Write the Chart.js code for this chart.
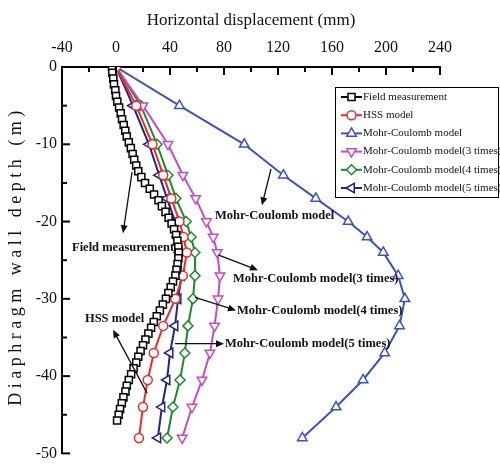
<!DOCTYPE html>
<html><head><meta charset="utf-8">
<script src="https://cdn.jsdelivr.net/npm/chart.js@4.4.1/dist/chart.umd.min.js"></script>
<style>html,body{margin:0;padding:0;background:#fff;}canvas{display:block;}</style>
</head><body>
<canvas id="c" width="500" height="468"></canvas>
<script>
// ---------- data ----------
const seriesNames = ["Field measurement","HSS model","Mohr-Coulomb model","Mohr-Coulomb model(3 times)","Mohr-Coulomb model(4 times)","Mohr-Coulomb model(5 times)"];
const fieldDepth = [0,-0.75,-1.5,-2.25,-3,-3.75,-4.5,-5.25,-6,-6.75,-7.5,-8.25,-9,-9.75,-10.5,-11.25,-12,-12.75,-13.5,-14.25,-15,-15.75,-16.5,-17.25,-18,-18.75,-19.5,-20.25,-21,-21.75,-22.5,-23.25,-24,-24.75,-25.5,-26.25,-27,-27.75,-28.5,-29.25,-30,-30.75,-31.5,-32.25,-33,-33.75,-34.5,-35.25,-36,-36.75,-37.5,-38.25,-39,-39.75,-40.5,-41.25,-42,-42.75,-43.5,-44.25,-45,-45.75];
const fieldDisp  = [-3,-2.7,-2,-1.5,-0.5,0,1,2.3,3.5,4.5,5.7,6.9,8,9.5,11,12.3,13.5,15,16.5,18.8,21.5,25,28.2,31.5,34,36.7,39,41.2,43,44.5,45.5,46.2,46.5,46.2,45.6,44.8,44,42.2,40.5,38.8,37,34.7,32.5,30.2,28,26,24,21.8,20,18.2,16.5,15,13,11.2,9.5,8,7,5.5,4.3,3,2,0.8];
const modelDepth = [0,-5,-10,-14,-17,-20,-22,-24,-27,-30,-33.5,-37,-40.5,-44,-48];
const hssDisp = [0,15,27,35,41,47,50,52.5,49.5,44,35,28,23.5,20,17];
const mcDisp  = [0,47,95,124,148,172,186,198,209,214,210,199,183,163,138];
const mc3Disp = [0,20,38.5,49.6,59,67,72,75,77,75.6,73,69.6,63.7,56.3,49];
const mc4Disp = [0,18.5,30.4,38.5,44.4,52,55.6,58.5,58.5,57,53.3,51,47.4,42.2,37.8];
const mc5Disp = [0,12.6,24.4,32,37.8,43.7,45.5,47,48.5,46,43.7,40,37.8,34,31];
const xTicks = [-40,0,40,80,120,160,200,240];
const yTicks = [0,-10,-20,-30,-40,-50];
const xTitle = "Horizontal displacement (mm)";
const yTitle = "Diaphragm wall depth (m)";

// annotation callouts (data units)
const notes = [
  {text:"Field measurement", tx:-32.6, ty:-23.4, from:[11.9,-13.6], to:[5.2,-21.5]},
  {text:"Mohr-Coulomb model", tx:73.3, ty:-19.3, from:[114.8,-13.2], to:[108.1,-17.9]},
  {text:"Mohr-Coulomb model(3 times)", tx:86.7, ty:-27.4, from:[75.6,-24.3], to:[105.2,-26.3]},
  {text:"Mohr-Coulomb model(4 times)", tx:89.6, ty:-31.5, from:[58.5,-29.8], to:[88.9,-31.5]},
  {text:"Mohr-Coulomb model(5 times)", tx:80.7, ty:-35.8, from:[43.7,-35.8], to:[80,-35.8]},
  {text:"HSS model", tx:-23, ty:-32.6, from:[23,-42.2], to:[-2.2,-34]}
];

const colors = ["#000000","#f0282a","#3c52c0","#c44cc4","#1e8a30","#1f2580"];
const styles = [
  {pointStyle:'rect', radius:5, rotation:0},
  {pointStyle:'circle', radius:4.5, rotation:0},
  {pointStyle:'triangle', radius:5.5, rotation:0},
  {pointStyle:'triangle', radius:5.5, rotation:180},
  {pointStyle:'rectRot', radius:5, rotation:0},
  {pointStyle:'triangle', radius:5.5, rotation:-90}
];
const xs = [fieldDisp,hssDisp,mcDisp,mc3Disp,mc4Disp,mc5Disp];
const ds = xs.map((arr,i)=>{
  const dep = i===0 ? fieldDepth : modelDepth;
  return {
    label: seriesNames[i],
    data: arr.map((v,j)=>({x:v,y:dep[j]})),
    showLine:true,
    borderColor: colors[i],
    backgroundColor:'#ffffff',
    pointBackgroundColor:'#ffffff',
    pointBorderColor: colors[i],
    pointBorderWidth:1.5,
    borderWidth: i===0?1.5:2,
    pointStyle: styles[i].pointStyle,
    pointRadius: styles[i].radius,
    pointRotation: styles[i].rotation,
    tension:0
  };
});

const serif = '"Liberation Serif","DejaVu Serif",serif';

function arrow(ctx,x1,y1,x2,y2){
  const a=Math.atan2(y2-y1,x2-x1), L=8, W=3.5;
  ctx.beginPath(); ctx.moveTo(x1,y1); ctx.lineTo(x2-Math.cos(a)*L*0.8,y2-Math.sin(a)*L*0.8); ctx.stroke();
  ctx.beginPath();
  ctx.moveTo(x2,y2);
  ctx.lineTo(x2-Math.cos(a)*L+Math.sin(a)*W, y2-Math.sin(a)*L-Math.cos(a)*W);
  ctx.lineTo(x2-Math.cos(a)*L-Math.sin(a)*W, y2-Math.sin(a)*L+Math.cos(a)*W);
  ctx.closePath(); ctx.fill();
}

const decor = {
  id:'decor',
  afterDraw(chart){
    const ctx=chart.ctx, sx=chart.scales.x, sy=chart.scales.y, ca=chart.chartArea;
    ctx.save();
    ctx.strokeStyle='#000'; ctx.lineWidth=2;
    // inward ticks
    for(let i=0;i<xTicks.length;i++){
      const p=sx.getPixelForValue(xTicks[i]);
      ctx.beginPath(); ctx.moveTo(p,ca.top); ctx.lineTo(p,ca.top+8); ctx.stroke();
      if(i<xTicks.length-1){
        const m=sx.getPixelForValue((xTicks[i]+xTicks[i+1])/2);
        ctx.beginPath(); ctx.moveTo(m,ca.top); ctx.lineTo(m,ca.top+5); ctx.stroke();
      }
    }
    for(let i=0;i<yTicks.length;i++){
      const p=sy.getPixelForValue(yTicks[i]);
      ctx.beginPath(); ctx.moveTo(ca.left,p); ctx.lineTo(ca.left+8,p); ctx.stroke();
      if(i<yTicks.length-1){
        const m=sy.getPixelForValue((yTicks[i]+yTicks[i+1])/2);
        ctx.beginPath(); ctx.moveTo(ca.left,m); ctx.lineTo(ca.left+5,m); ctx.stroke();
      }
    }
    // y title with letter spacing
    ctx.save();
    ctx.translate(16,256); ctx.rotate(-Math.PI/2);
    ctx.font='18px '+serif; ctx.fillStyle='#111';
    try{ctx.letterSpacing='4.5px';}catch(e){}
    ctx.textAlign='center'; ctx.textBaseline='middle';
    ctx.fillText(yTitle,0,0);
    ctx.restore();
    // callouts
    ctx.fillStyle='#111'; ctx.strokeStyle='#111'; ctx.lineWidth=1.3;
    ctx.font='bold 12.5px '+serif; ctx.textAlign='left'; ctx.textBaseline='middle';
    notes.forEach(n=>{
      ctx.fillText(n.text, sx.getPixelForValue(n.tx), sy.getPixelForValue(n.ty));
      arrow(ctx, sx.getPixelForValue(n.from[0]), sy.getPixelForValue(n.from[1]),
                 sx.getPixelForValue(n.to[0]), sy.getPixelForValue(n.to[1]));
    });
    // legend
    const lx=335.5, ly=87.5, lw=163, lh=110;
    ctx.fillStyle='#fff'; ctx.fillRect(lx,ly,lw,lh);
    ctx.strokeStyle='#000'; ctx.lineWidth=1; ctx.strokeRect(lx,ly,lw,lh);
    ctx.font='11px '+serif; ctx.textBaseline='middle'; ctx.textAlign='left';
    seriesNames.forEach((name,i)=>{
      const y=97+i*18.2;
      ctx.strokeStyle=colors[i]; ctx.lineWidth=2;
      ctx.beginPath(); ctx.moveTo(341,y); ctx.lineTo(362,y); ctx.stroke();
      ctx.fillStyle='#fff'; ctx.lineWidth=1.5;
      Chart.helpers.drawPoint(ctx,{pointStyle:styles[i].pointStyle,rotation:styles[i].rotation,radius:styles[i].radius,borderWidth:1.5},351.5,y);
      ctx.fillStyle='#111';
      ctx.fillText(name,363,y);
    });
    ctx.restore();
  }
};

new Chart(document.getElementById('c'),{
  type:'scatter',
  data:{datasets:ds},
  options:{
    responsive:false, animation:false, devicePixelRatio:1,
    layout:{padding:{left:0,top:0,right:60,bottom:10}},
    plugins:{legend:{display:false},tooltip:{enabled:false}},
    elements:{line:{tension:0}},
    scales:{
      x:{type:'linear',position:'top',min:-40,max:240,
        afterBuildTicks:s=>{s.ticks=xTicks.map(v=>({value:v}));},
        afterFit:s=>{s.height=67;},
        grid:{display:false,drawTicks:false},
        border:{display:true,color:'#000',width:2},
        ticks:{color:'#111',font:{family:serif,size:16},padding:10,maxRotation:0,autoSkip:false},
        title:{display:true,text:xTitle,color:'#111',font:{family:serif,size:17},padding:{top:10,bottom:0}}
      },
      y:{type:'linear',position:'left',min:-50,max:0,
        afterBuildTicks:s=>{s.ticks=yTicks.map(v=>({value:v}));},
        afterFit:s=>{s.width=62;},
        grid:{display:false,drawTicks:false},
        border:{display:true,color:'#000',width:2},
        ticks:{color:'#111',font:{family:serif,size:16},padding:5,autoSkip:false}
      }
    }
  },
  plugins:[decor]
});
</script>
</body></html>
